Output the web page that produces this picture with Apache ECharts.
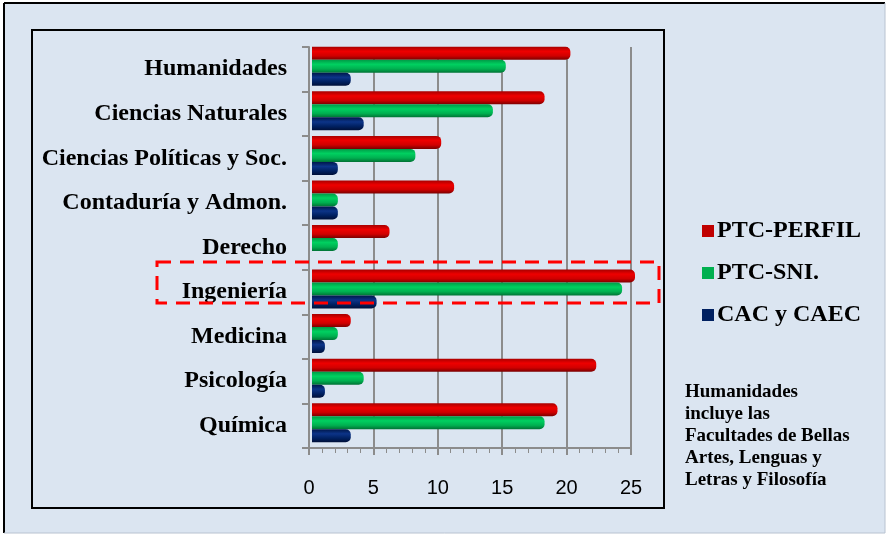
<!DOCTYPE html>
<html><head><meta charset="utf-8">
<script src="https://cdn.jsdelivr.net/npm/echarts@6/dist/echarts.min.js"></script>
<style>html,body{margin:0;padding:0;background:#fff;}#c{width:887px;height:535px;}</style>
</head><body><div id="c"></div>
<script>
const categories = ['Humanidades','Ciencias Naturales','Ciencias Políticas y Soc.','Contaduría y Admon.','Derecho','Ingeniería','Medicina','Psicología','Química'];
const seriesNames = ['PTC-PERFIL','PTC-SNI.','CAC y CAEC'];
const ptcPerfil = [20,18,10,11,6,25,3,22,19];
const ptcSni = [15,14,8,2,2,24,2,4,18];
const cacCaec = [3,4,2,2,0,5,1,1,3];
const xTicks = [0,5,10,15,20,25];
const noteLines = ['Humanidades','incluye las','Facultades de Bellas','Artes, Lenguas y','Letras y Filosofía'];

const solid = ['#c00000','#00b050','#002060'];
function grad(c0,c1,c2,c3){
  return new echarts.graphic.LinearGradient(0,0,0,1,[
    {offset:0,color:c0},{offset:0.35,color:c1},{offset:0.7,color:c2},{offset:1,color:c3}]);
}
const grads = [
  grad('#a80000','#ee0000','#d00000','#7a0000'),
  grad('#009a46','#00d060','#00b050','#007235'),
  grad('#00174a','#0c3488','#002060','#000f38')
];
const dataSets = [ptcPerfil, ptcSni, cacCaec];
const serif = '"Liberation Serif","Times New Roman",serif';
const grey = '#8c8c8c';

const chart = echarts.init(document.getElementById('c'));
chart.setOption({
  backgroundColor: '#ffffff',
  animation: false,
  grid: [
    {left: 309, right: 256, top: 47, bottom: 87, containLabel: false},
    {left: 312, right: 252, top: 44, bottom: 90, containLabel: false}
  ],
  xAxis: [{
    gridIndex: 0, type: 'value', min: 0, max: 25, interval: 5,
    axisLine: {show: true, lineStyle: {color: grey, width: 2}},
    axisTick: {show: true, length: 7, lineStyle: {color: grey, width: 2}},
    minorTick: {show: true, splitNumber: 5, length: 5, lineStyle: {color: grey, width: 1}},
    splitLine: {show: true, lineStyle: {color: grey, width: 2}},
    axisLabel: {color: '#000', fontSize: 20, fontFamily: '"Liberation Sans",Arial,sans-serif', margin: 30,
      formatter: v => xTicks.indexOf(v) >= 0 ? String(v) : ''}
  }, {
    gridIndex: 1, type: 'value', min: 0, max: 25, interval: 5, show: false
  }],
  yAxis: [{
    gridIndex: 0, type: 'category', data: categories, inverse: true,
    axisLine: {show: true, lineStyle: {color: grey, width: 2}},
    axisTick: {show: true, length: 7, lineStyle: {color: grey, width: 2}},
    axisLabel: {color: '#000', fontSize: 24, fontWeight: 'bold', fontFamily: serif, margin: 22, padding: [6,0,0,0]}
  }, {
    gridIndex: 1, type: 'category', data: categories, inverse: true, show: false
  }],
  legend: {
    orient: 'vertical', left: 697, top: 214, itemWidth: 12, itemHeight: 12, itemGap: 18,
    icon: 'rect', selectedMode: false,
    textStyle: {color: '#000', fontSize: 24, fontWeight: 'bold', fontFamily: serif, padding: [0,0,0,-2]},
    data: seriesNames.map((n,i) => ({name: n, itemStyle: {color: solid[i]}}))
  },
  series: seriesNames.map((n,i) => ({
    name: n, type: 'bar', xAxisIndex: 1, yAxisIndex: 1, data: dataSets[i], barWidth: 13, barGap: '0%',
    itemStyle: {color: grads[i], borderRadius: [0,5,5,0]}
  })),
  graphic: [
    {type: 'rect', z: -10, silent: true, shape: {x: 4, y: 3, width: 881, height: 530},
      style: {fill: '#dbe5f1', stroke: null}},
    {type: 'line', z: -9, shape: {x1: 4, y1: 3, x2: 885, y2: 3}, style: {stroke: '#000', lineWidth: 2}},
    {type: 'line', z: -9, shape: {x1: 4, y1: 3, x2: 4, y2: 533}, style: {stroke: '#000', lineWidth: 2}},
    {type: 'line', z: -9, shape: {x1: 885, y1: 3, x2: 885, y2: 533}, style: {stroke: '#b8c2d0', lineWidth: 1}},
    {type: 'line', z: -9, shape: {x1: 4, y1: 533, x2: 885, y2: 533}, style: {stroke: '#b8c2d0', lineWidth: 1}},
    {type: 'rect', z: -8, silent: true, shape: {x: 32, y: 30, width: 632, height: 478},
      style: {fill: 'none', stroke: '#000', lineWidth: 2}},
    {type: 'rect', z: 100, silent: true, shape: {x: 157, y: 262, width: 502, height: 41},
      style: {fill: 'none', stroke: '#ff0000', lineWidth: 3, lineDash: [14, 9]}},
    {type: 'text', z: 50, left: 685, top: 381,
      style: {text: noteLines.join('\n'), fill: '#000', font: 'bold 19px ' + serif, lineHeight: 22}}
  ]
});
</script></body></html>
